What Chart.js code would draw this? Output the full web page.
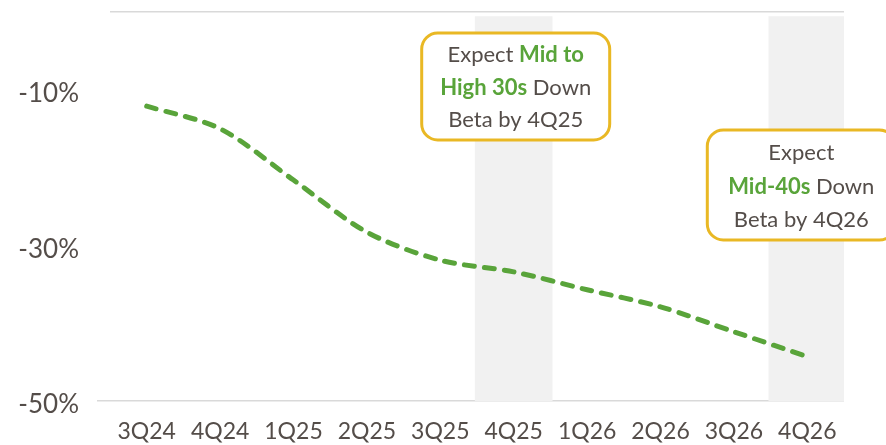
<!DOCTYPE html>
<html>
<head>
<meta charset="utf-8">
<script src="https://cdn.jsdelivr.net/npm/chart.js@4"></script>
<style>
  html, body { margin: 0; padding: 0; background: #ffffff; }
  #wrap { width: 886px; height: 445px; }
</style>
</head>
<body>
<div id="wrap"><canvas id="chart" width="886" height="445"></canvas></div>
<script>
// Quarterly cumulative deposit beta path (percent)
const categories = ['3Q24', '4Q24', '1Q25', '2Q25', '3Q25', '4Q25', '1Q26', '2Q26', '3Q26', '4Q26'];
const betaValues = [-12.1, -15.0, -21.6, -28.3, -31.9, -33.4, -35.7, -37.9, -41.1, -44.3];
// Quarters highlighted with a shaded column
const highlightQuarters = ['4Q25', '4Q26'];
const highlightRange = [-50, -0.6];
// Y axis labels that are printed
const yLabelValues = [-10, -30, -50];
const yMin = -50, yMax = 0;

// Callout text: each line is a list of [text, emphasised]
const calloutMidHigh30s = [
  [['Expect ', false], ['Mid to', true]],
  [['High 30s', true], [' Down', false]],
  [['Beta by 4Q25', false]]
];
const calloutMid40s = [
  [['Expect', false]],
  [['Mid-40s', true], [' Down', false]],
  [['Beta by 4Q26', false]]
];

const GREEN = '#59a43a';
const TEXT = '#544d49';
const GOLD = '#e9b824';
const FONT = 'Lato, "Open Sans", sans-serif';

const bandData = categories.map(c => highlightQuarters.includes(c) ? highlightRange : null);

const callouts = [
  { at: '4Q25', dx: 2, top: 33, w: 188, h: 107, first: 22, step: 32.5, lines: calloutMidHigh30s },
  { at: '4Q26', dx: -6, top: 130, w: 188, h: 110, first: 23, step: 33.5, lines: calloutMid40s }
];

function roundRect(ctx, x, y, w, h, r) {
  ctx.beginPath();
  ctx.moveTo(x + r, y);
  ctx.lineTo(x + w - r, y);
  ctx.arcTo(x + w, y, x + w, y + r, r);
  ctx.lineTo(x + w, y + h - r);
  ctx.arcTo(x + w, y + h, x + w - r, y + h, r);
  ctx.lineTo(x + r, y + h);
  ctx.arcTo(x, y + h, x, y + h - r, r);
  ctx.lineTo(x, y + r);
  ctx.arcTo(x, y, x + r, y, r);
  ctx.closePath();
}

const calloutPlugin = {
  id: 'callouts',
  afterDraw(chart) {
    const ctx = chart.ctx;
    const xs = chart.scales.x;
    ctx.save();
    callouts.forEach(c => {
      const cx = xs.getPixelForValue(categories.indexOf(c.at)) + c.dx;
      const left = cx - c.w / 2;
      roundRect(ctx, left, c.top, c.w, c.h, 16);
      ctx.fillStyle = '#ffffff';
      ctx.fill();
      ctx.lineWidth = 3;
      ctx.strokeStyle = GOLD;
      ctx.stroke();
      ctx.textBaseline = 'middle';
      ctx.textAlign = 'left';
      c.lines.forEach((segs, i) => {
        const y = c.top + c.first + i * c.step;
        const widths = segs.map(([t, b]) => {
          ctx.font = (b ? '700 ' : '400 ') + '22px ' + FONT;
          return ctx.measureText(t).width;
        });
        const total = widths.reduce((a, b) => a + b, 0);
        let x = cx - total / 2;
        segs.forEach(([t, b], k) => {
          ctx.font = (b ? '700 ' : '400 ') + '22px ' + FONT;
          ctx.fillStyle = b ? GREEN : TEXT;
          ctx.fillText(t, x, y);
          x += widths[k];
        });
      });
    });
    ctx.restore();
  }
};

new Chart(document.getElementById('chart'), {
  type: 'bar',
  data: {
    labels: categories,
    datasets: [
      {
        type: 'line',
        data: betaValues,
        borderColor: GREEN,
        borderWidth: 5,
        borderDash: [10, 10],
        borderCapStyle: 'round',
        borderJoinStyle: 'round',
        tension: 0.3,
        pointRadius: 0,
        fill: false,
        order: 0
      },
      {
        type: 'bar',
        data: bandData,
        backgroundColor: '#f1f1f1',
        borderWidth: 0,
        barThickness: 77,
        order: 1
      }
    ]
  },
  options: {
    responsive: false,
    devicePixelRatio: 1,
    animation: false,
    layout: { padding: { top: 12, right: 42, left: 0, bottom: 0 } },
    plugins: { legend: { display: false }, tooltip: { enabled: false } },
    scales: {
      x: {
        offset: true,
        border: { display: false },
        grid: { display: false, drawTicks: false },
        ticks: {
          color: TEXT,
          font: { family: FONT, size: 23 },
          padding: 17,
          maxRotation: 0,
          autoSkip: false
        },
        afterFit(scale) {
          scale.height = 44;
          scale.paddingLeft = 0;
          scale.paddingRight = 0;
        }
      },
      y: {
        min: yMin,
        max: yMax,
        border: { display: false },
        grid: {
          color: ctx => (ctx.tick && (ctx.tick.value === yMin || ctx.tick.value === yMax)) ? '#d9d9d9' : 'rgba(0,0,0,0)',
          tickColor: ctx => (ctx.tick && ctx.tick.value === yMin) ? '#d9d9d9' : 'rgba(0,0,0,0)',
          tickLength: 13,
          lineWidth: 1.5
        },
        ticks: {
          stepSize: 10,
          color: TEXT,
          font: { family: FONT, size: 26 },
          padding: 18,
          labelOffset: 4,
          callback: v => yLabelValues.includes(v) ? v + '%' : ''
        },
        afterFit(scale) {
          scale.width = 110;
          scale.paddingTop = 0;
          scale.paddingBottom = 0;
        }
      }
    }
  },
  plugins: [calloutPlugin]
});
</script>
</body>
</html>
